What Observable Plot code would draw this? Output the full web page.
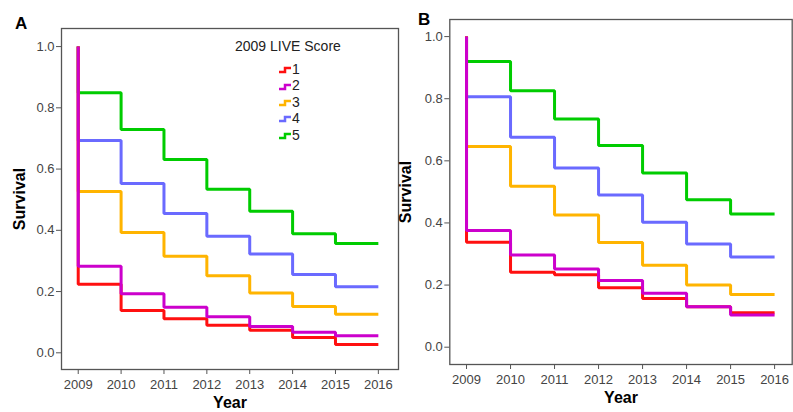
<!DOCTYPE html>
<html><head><meta charset="utf-8">
<script src="https://cdn.jsdelivr.net/npm/d3@7"></script>
<script src="https://cdn.jsdelivr.net/npm/@observablehq/plot@0.6"></script>
<style>
body{margin:0;background:#fff;font-family:Arial,"Liberation Sans",sans-serif;}
#wrap{position:relative;width:793px;height:412px;overflow:hidden;background:#fff;}
.panel{position:absolute;top:0;}
.panel svg{overflow:visible;}
.tag{position:absolute;font-weight:bold;font-size:17px;color:#000;line-height:1;}
#legend{position:absolute;left:220px;top:38px;font-size:14px;color:#222;}
#legend .title{position:absolute;left:15px;top:0;white-space:nowrap;}
#legend .item{position:absolute;left:59px;white-space:nowrap;height:16px;line-height:16px;}
#legend .item svg{vertical-align:middle;margin-right:1px;}
</style></head>
<body>
<div id="wrap">
  <div class="panel" id="pa" style="left:0"></div>
  <div class="panel" id="pb" style="left:400px"></div>
  <div class="tag" style="left:15px;top:15px">A</div>
  <div class="tag" style="left:418px;top:11px">B</div>
  <div id="legend"></div>
</div>
<script>
const years = [2009, 2010, 2011, 2012, 2013, 2014, 2015, 2016];
const scores = ["1", "2", "3", "4", "5"];
const colors = ["#ff1010", "#cc00cc", "#ffb400", "#6a6aff", "#00cc00"];
const yTicks = [0, 0.2, 0.4, 0.6, 0.8, 1.0];
const legendTitle = "2009 LIVE Score";

// Panel A: survival level held from each year to the next (2009-2010 ... 2015-2016)
const a1 = [0.224, 0.138, 0.111, 0.090, 0.074, 0.050, 0.027];
const a2 = [0.283, 0.193, 0.149, 0.118, 0.086, 0.067, 0.056];
const a3 = [0.527, 0.393, 0.315, 0.252, 0.195, 0.151, 0.126];
const a4 = [0.693, 0.553, 0.455, 0.381, 0.323, 0.256, 0.216];
const a5 = [0.849, 0.729, 0.631, 0.534, 0.462, 0.389, 0.357];

// Panel B
const b1 = [0.338, 0.241, 0.233, 0.191, 0.157, 0.130, 0.111];
const b2 = [0.376, 0.297, 0.252, 0.215, 0.174, 0.130, 0.104];
const b3 = [0.646, 0.518, 0.426, 0.337, 0.264, 0.200, 0.170];
const b4 = [0.806, 0.676, 0.577, 0.490, 0.402, 0.332, 0.290];
const b5 = [0.920, 0.826, 0.735, 0.649, 0.561, 0.475, 0.429];

const drawOrder = [4, 3, 2, 0, 1]; // green, blue, orange, red, magenta (magenta on top)

function rows(levels, score) {
  const out = [{year: years[0], surv: 1.0, score}];
  levels.forEach((v, i) => out.push({year: years[i], surv: v, score}));
  out.push({year: years[years.length - 1], surv: levels[levels.length - 1], score});
  return out;
}

function panel(series, o) {
  const data = drawOrder.flatMap(i => rows(series[i], scores[i]));
  return Plot.plot({
    width: o.width, height: 412,
    marginLeft: o.ml, marginRight: o.mr, marginTop: o.mt, marginBottom: o.mb,
    style: {fontFamily: "Arial, 'Liberation Sans', sans-serif", fontSize: "13px", color: "#555", background: "transparent"},
    x: {domain: o.xd},
    y: {domain: o.yd},
    color: {domain: scores, range: colors},
    marks: [
      Plot.frame({stroke: "#555", strokeWidth: 1.3}),
      Plot.axisY({ticks: yTicks, tickFormat: d3.format(".1f"), tickSize: 5, tickPadding: 2,
        label: "Survival", labelAnchor: "center", labelArrow: "none", labelOffset: o.lyo,
        fontSize: 13, fill: "#444"}),
      Plot.axisX({ticks: years, tickFormat: d => String(d), tickSize: 5, tickPadding: 5,
        label: "Year", labelAnchor: "center", labelArrow: "none", labelOffset: o.lxo,
        fontSize: 13, fill: "#444"}),
      Plot.line(data, {x: "year", y: "surv", z: "score", stroke: "score",
        curve: "step-after", strokeWidth: 3, strokeLinejoin: "miter", strokeLinecap: "butt"})
    ]
  });
}

const A = panel([a1, a2, a3, a4, a5], {width: 400, ml: 61, mr: 2, mt: 28, mb: 43,
  xd: [2008.61, 2016.47], yd: [-0.0545, 1.059], lyo: 48, lxo: 38});
const B = panel([b1, b2, b3, b4, b5], {width: 393, ml: 49.3, mr: 1.3, mt: 19, mb: 48,
  xd: [2008.62, 2016.40], yd: [-0.0557, 1.055], lyo: 50, lxo: 38});

// bold axis titles only
for (const svg of [A, B]) {
  svg.querySelectorAll("[aria-label='y-axis label'] text, [aria-label='x-axis label'] text").forEach(t => {
    t.setAttribute("font-weight", "bold");
    t.setAttribute("font-size", "16");
    t.setAttribute("fill", "#000");
  });
  svg.querySelectorAll("[aria-label='y-axis label'], [aria-label='x-axis label']").forEach(g => {
    g.setAttribute("font-weight", "bold");
    g.setAttribute("font-size", "16");
    g.setAttribute("fill", "#000");
  });
}
document.getElementById("pa").appendChild(A);
document.getElementById("pb").appendChild(B);

// legend
const lg = document.getElementById("legend");
const t = document.createElement("div");
t.className = "title"; t.textContent = legendTitle; lg.appendChild(t);
scores.forEach((s, i) => {
  const it = document.createElement("div");
  it.className = "item";
  it.style.top = (23 + i * 16.4) + "px";
  it.innerHTML = `<svg width="12" height="10"><path d="M0,7H6V3H12" fill="none" stroke="${colors[i]}" stroke-width="2.5"/></svg>${s}`;
  lg.appendChild(it);
});
</script>
</body></html>
